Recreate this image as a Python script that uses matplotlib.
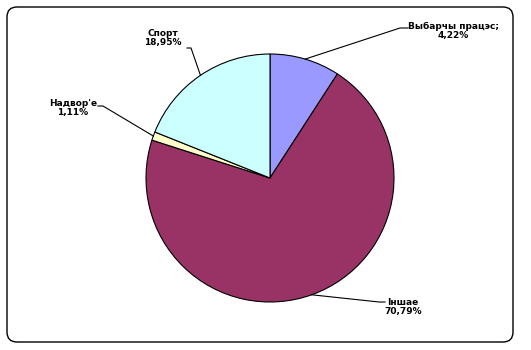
import numpy as np
import matplotlib.pyplot as plt
from matplotlib.patches import FancyBboxPatch

# slice values (sizes) and the printed labels
names = ["Выбарчы працэс;", "Іншае", "Надвор'е", "Спорт"]
shares = [9.15, 70.79, 1.11, 18.95]
printed = ["4,22%", "70,79%", "1,11%", "18,95%"]
colors = ["#9999FF", "#993366", "#FFFFCC", "#CCFFFF"]

W, H = 531, 350
fig = plt.figure(figsize=(W / 100, H / 100), dpi=100)
ax = fig.add_axes([0, 0, 1, 1])
ax.set_xlim(0, W)
ax.set_ylim(0, H)
ax.set_aspect("equal")
ax.axis("off")

# outer rounded frame
frame = FancyBboxPatch((7, 8), 506, 335, boxstyle="round,pad=0,rounding_size=10",
                       fc="white", ec="black", lw=1.0)
ax.add_patch(frame)

cx, cy, r = 270, 350 - 178, 124
wedges, _ = ax.pie(shares, colors=colors, startangle=90, counterclock=False,
                   center=(cx, cy), radius=r,
                   wedgeprops=dict(edgecolor="black", linewidth=0.8))
ax.set_xlim(0, W)
ax.set_ylim(0, H)

# label placement: text centre, elbow, label-side end of the leader
label_pos = [(453, 319), (403, 43), (73, 242), (163, 312)]
elbows = [((400, 322), (408, 322)),
          ((379, 48), (385, 48)),
          ((103, 244), (98, 244)),
          ((191, 302), (187, 302))]

for w, name, txt, (tx, ty), (e1, e2) in zip(wedges, names, printed, label_pos, elbows):
    ang = np.deg2rad((w.theta1 + w.theta2) / 2)
    px, py = cx + r * np.cos(ang), cy + r * np.sin(ang)
    ax.plot([px, e1[0], e2[0]], [py, e1[1], e2[1]], color="black", lw=0.8)
    ax.text(tx, ty, name + "\n" + txt, ha="center", va="center",
            fontsize=6.5, fontweight="bold", linespacing=1.1,
            family=["DejaVu Sans"])

fig.savefig("out.png", dpi=100)
